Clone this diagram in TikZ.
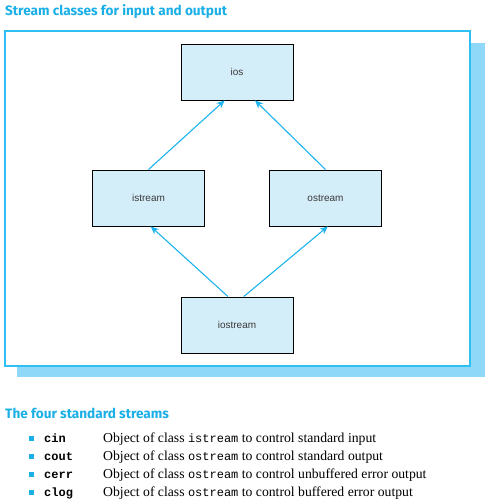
\documentclass[tikz,border=0pt]{standalone}
\usepackage{fontspec}
\setmainfont{Liberation Serif}
\newfontfamily\hdfont{Fira Sans}
\newfontfamily\boxfont{Liberation Sans}
\setmonofont{Liberation Mono}
\usetikzlibrary{calc,arrows.meta}
\definecolor{hdcyan}{HTML}{1AAFE6}
\definecolor{framecyan}{HTML}{2EC0F2}
\definecolor{shadowblue}{HTML}{8FD8F8}
\definecolor{boxfill}{HTML}{D4EEF9}
\definecolor{arrowcyan}{HTML}{1DB4EE}
\definecolor{labelgray}{HTML}{3A3A3A}
\tikzset{
  classbox/.style={draw=black, line width=0.9pt, fill=boxfill, minimum width=112pt, minimum height=56pt, inner sep=0pt, font=\boxfont\fontsize{10}{12}\selectfont, text=labelgray},
  inherit/.style={draw=arrowcyan, line width=1.1pt, -{Stealth[length=8pt,width=7pt]}},
  heading/.style={anchor=base west, inner sep=0pt, font=\hdfont\bfseries\fontsize{13.6}{15}\selectfont, text=hdcyan},
  bulletsq/.style={fill=hdcyan, minimum size=5pt, inner sep=0pt},
  kw/.style={anchor=base west, inner sep=0pt, font=\ttfamily\bfseries\fontsize{12}{14}\selectfont},
  desc/.style={anchor=base west, inner sep=0pt, font=\fontsize{13.7}{15}\selectfont}
}
\newcommand{\cls}[1]{{\ttfamily\fontsize{12}{14}\selectfont #1}}
\begin{document}
\begin{tikzpicture}[x=1pt,y=-1pt]
\useasboundingbox (0,0) rectangle (485,502);
% title
\node[heading] (title) at (5,16) {Stream classes for input and output};
% frame with shadow
\fill[shadowblue] (17,43) rectangle (485,377);
\draw[framecyan, line width=1.6pt, fill=white] (5,31) rectangle (470,366);
% class boxes
\node[classbox] (ios) at (237,72) {ios};
\node[classbox] (istream) at (148.5,198) {istream};
\node[classbox] (ostream) at (325.5,198) {ostream};
\node[classbox] (iostream) at (237,325) {iostream};
% connectors
\draw[inherit] (istream.north) -- ($(ios.south west)!0.39!(ios.south east)$);
\draw[inherit] (ostream.north) -- ($(ios.south west)!0.66!(ios.south east)$);
\draw[inherit] ($(iostream.north west)!0.42!(iostream.north east)$) -- ($(istream.south west)!0.52!(istream.south east)$);
\draw[inherit] ($(iostream.north west)!0.56!(iostream.north east)$) -- ($(ostream.south west)!0.52!(ostream.south east)$);
% standard streams
\node[heading] (title2) at (5,418) {The four standard streams};
\node[bulletsq] (b1) at (31,438) {};
\node[bulletsq] (b2) at (31,456) {};
\node[bulletsq] (b3) at (31,474) {};
\node[bulletsq] (b4) at (31,492) {};
\node[kw] (k1) at (44,442) {cin};
\node[kw] (k2) at (44,460) {cout};
\node[kw] (k3) at (44,478) {cerr};
\node[kw] (k4) at (44,496) {clog};
\node[desc] (d1) at (103,442) {Object of class \cls{istream} to control standard input};
\node[desc] (d2) at (103,460) {Object of class \cls{ostream} to control standard output};
\node[desc] (d3) at (103,478) {Object of class \cls{ostream} to control unbuffered error output};
\node[desc] (d4) at (103,496) {Object of class \cls{ostream} to control buffered error output};
\end{tikzpicture}
\end{document}
